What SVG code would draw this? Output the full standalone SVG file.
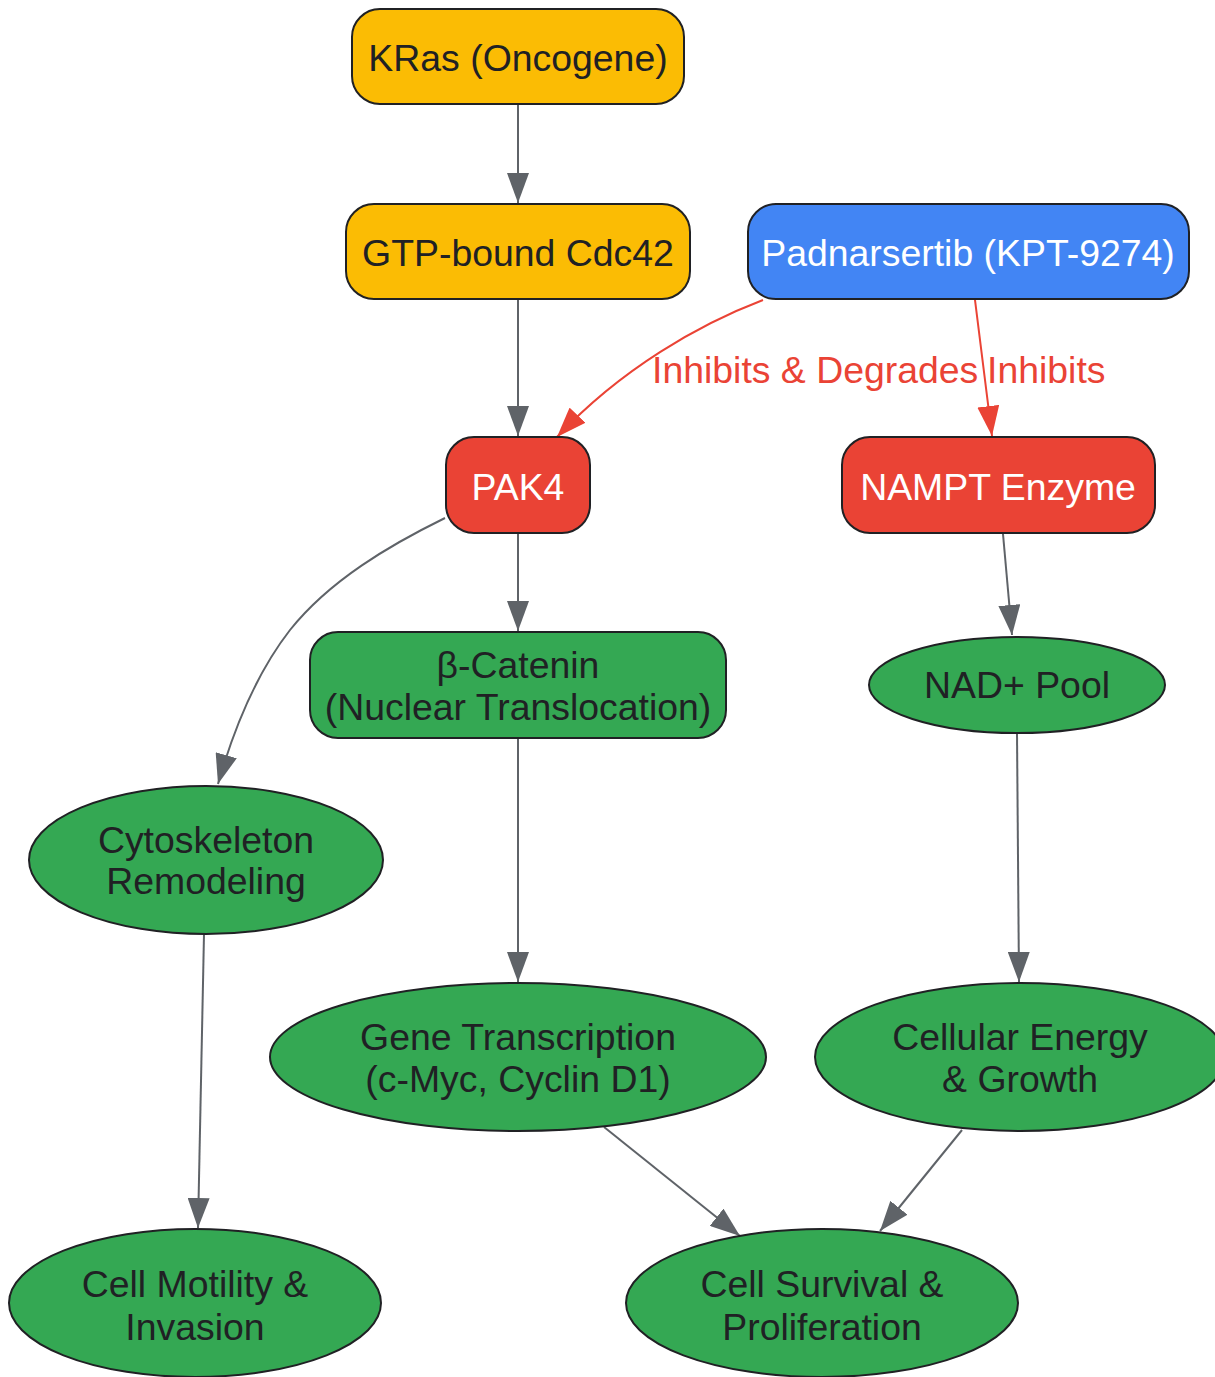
<svg xmlns="http://www.w3.org/2000/svg" width="1215" height="1377" viewBox="0 0 1215 1377">
<style>
text{font-family:"Liberation Sans",Arial,sans-serif;font-size:37.4px;text-anchor:middle;fill:#202124}
.w{fill:#ffffff}
.box{stroke:#202124;stroke-width:2}
.y{fill:#FBBC04}.b{fill:#4285F4}.r{fill:#EA4335}.g{fill:#34A853}
.e{fill:none;stroke:#5f6368;stroke-width:2}
.ei{fill:none;stroke:#EA4335;stroke-width:2}
.lbl{fill:#EA4335;text-anchor:start}
</style>
<defs>
<marker id="ag" viewBox="0 0 30 22" refX="30" refY="11" markerWidth="30" markerHeight="22" markerUnits="userSpaceOnUse" orient="auto"><path d="M0,0L30,11L0,22z" fill="#5f6368"/></marker>
<marker id="ar" viewBox="0 0 30 22" refX="30" refY="11" markerWidth="30" markerHeight="22" markerUnits="userSpaceOnUse" orient="auto"><path d="M0,0L30,11L0,22z" fill="#EA4335"/></marker>
</defs>
<rect width="1215" height="1377" fill="#ffffff"/>
<g id="connectors">
<path class="e" d="M518,104L518,203" marker-end="url(#ag)"/>
<path class="e" d="M518,299L518,436" marker-end="url(#ag)"/>
<path class="ei" d="M763,300C700,324 622,368 557,437" marker-end="url(#ar)"/>
<path class="ei" d="M975,300L992,436" marker-end="url(#ar)"/>
<path class="e" d="M445,518C390,545 330,580 290,630C255,675 232,735 218,784" marker-end="url(#ag)"/>
<path class="e" d="M518,533L518,631" marker-end="url(#ag)"/>
<path class="e" d="M1003,534L1012,635" marker-end="url(#ag)"/>
<path class="e" d="M518,738L518,982" marker-end="url(#ag)"/>
<path class="e" d="M1017,733L1019,982" marker-end="url(#ag)"/>
<path class="e" d="M204,934L198,1228" marker-end="url(#ag)"/>
<path class="e" d="M604,1127L740,1236" marker-end="url(#ag)"/>
<path class="e" d="M962,1130L880,1231" marker-end="url(#ag)"/>
<text class="lbl" x="652" y="383">Inhibits &amp; Degrades</text>
<text class="lbl" x="987" y="383">Inhibits</text>
</g>
<g id="kras"><rect class="box y" x="352" y="9" width="332" height="95" rx="28"/><text x="518" y="71">KRas (Oncogene)</text></g>
<g id="cdc42"><rect class="box y" x="346" y="204" width="344" height="95" rx="28"/><text x="518" y="266">GTP-bound Cdc42</text></g>
<g id="padnarsertib"><rect class="box b" x="748" y="204" width="441" height="95" rx="28"/><text class="w" x="968" y="266">Padnarsertib (KPT-9274)</text></g>
<g id="pak4"><rect class="box r" x="446" y="437" width="144" height="96" rx="28"/><text class="w" x="518" y="500">PAK4</text></g>
<g id="nampt"><rect class="box r" x="842" y="437" width="313" height="96" rx="28"/><text class="w" x="998" y="500">NAMPT Enzyme</text></g>
<g id="catenin"><rect class="box g" x="310" y="632" width="416" height="106" rx="28"/><text x="518" y="678">β-Catenin</text><text x="518" y="720">(Nuclear Translocation)</text></g>
<g id="nad"><ellipse class="box g" cx="1017" cy="685" rx="148" ry="48"/><text x="1017" y="698">NAD+ Pool</text></g>
<g id="cyto"><ellipse class="box g" cx="206" cy="860" rx="177" ry="74"/><text x="206" y="853">Cytoskeleton</text><text x="206" y="894">Remodeling</text></g>
<g id="gene"><ellipse class="box g" cx="518" cy="1057" rx="248" ry="74"/><text x="518" y="1050">Gene Transcription</text><text x="518" y="1092">(c-Myc, Cyclin D1)</text></g>
<g id="energy"><ellipse class="box g" cx="1020" cy="1057" rx="205" ry="74"/><text x="1020" y="1050">Cellular Energy</text><text x="1020" y="1092">&amp; Growth</text></g>
<g id="motility"><ellipse class="box g" cx="195" cy="1303" rx="186" ry="74"/><text x="195" y="1297">Cell Motility &amp;</text><text x="195" y="1340">Invasion</text></g>
<g id="survival"><ellipse class="box g" cx="822" cy="1303" rx="196" ry="74"/><text x="822" y="1297">Cell Survival &amp;</text><text x="822" y="1340">Proliferation</text></g>
</svg>
